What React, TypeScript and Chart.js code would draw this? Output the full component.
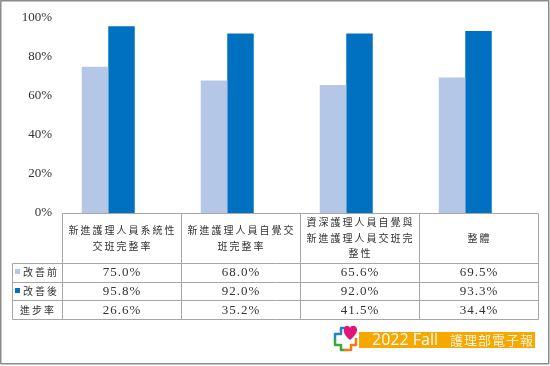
import React, { useEffect, useRef } from "react";
import { Chart, registerables } from "chart.js";

Chart.register(...registerables);

// ---- data ----
const categoryLines: string[][] = [
  ["新進護理人員系統性", "交班完整率"],
  ["新進護理人員自覺交", "班完整率"],
  ["資深護理人員自覺與", "新進護理人員交班完", "整性"],
  ["整體"],
];
const seriesNames = ["改善前", "改善後"];
const beforeValues = [75.0, 68.0, 65.6, 69.5];
const afterValues = [95.8, 92.0, 92.0, 93.3];
const progressLabel = "進步率";
const progressValues = [26.6, 35.2, 41.5, 34.4];
const yTickValues = [0, 20, 40, 60, 80, 100];
const footerYear = "2022 Fall";
const footerTitle = "護理部電子報";

// ---- style ----
const seriesColors = ["#b4c7e7", "#0070c0"];
const textColor = "#333333";
const gridColor = "#a6a6a6";
const serif = "'Liberation Serif', 'Times New Roman', serif";
const cjk = "'Noto Sans CJK TC', 'Noto Sans CJK SC', sans-serif";

const fmt = (v: number) => v.toFixed(1) + "%";

const drawLine = (ctx: CanvasRenderingContext2D, x1: number, y1: number, x2: number, y2: number) => {
  ctx.beginPath();
  ctx.moveTo(Math.round(x1) + 0.5, Math.round(y1) + 0.5);
  ctx.lineTo(Math.round(x2) + 0.5, Math.round(y2) + 0.5);
  ctx.stroke();
};

const tablePlugin = {
  id: "dataTable",
  afterDraw(chart: any) {
    const { ctx, chartArea } = chart;
    const xs = chart.scales.x;
    const n = categoryLines.length;
    const colW = (chartArea.right - chartArea.left) / n;
    const top = chartArea.bottom;
    const headerH = 50;
    const rowH = 18.7;
    const legendLeft = 12;
    const rowCount = 3;
    const bodyTop = top + headerH;
    const bottom = bodyTop + rowCount * rowH;

    ctx.save();
    ctx.strokeStyle = gridColor;
    ctx.lineWidth = 1;
    drawLine(ctx, chartArea.left, top, chartArea.right, top);
    for (let r = 0; r <= rowCount; r++) {
      const y = bodyTop + r * rowH;
      drawLine(ctx, legendLeft, y, chartArea.right, y);
    }
    drawLine(ctx, legendLeft, bodyTop, legendLeft, bottom);
    for (let i = 0; i <= n; i++) {
      const x = chartArea.left + i * colW;
      drawLine(ctx, x, top, x, bottom);
    }

    // header text
    ctx.fillStyle = textColor;
    ctx.textBaseline = "middle";
    ctx.textAlign = "center";
    ctx.font = `10px ${cjk}`;
    (ctx as any).letterSpacing = "2px";
    const lineH = 15.5;
    categoryLines.forEach((lines, i) => {
      const cx = xs.getPixelForValue(i) + 1;
      const cy = top + headerH / 2;
      lines.forEach((t, k) => {
        ctx.fillText(t, cx, cy + (k - (lines.length - 1) / 2) * lineH);
      });
    });

    // legend column
    const rowsData = [beforeValues, afterValues, progressValues];
    ctx.textAlign = "left";
    seriesNames.forEach((name, r) => {
      const cy = bodyTop + (r + 0.5) * rowH;
      ctx.fillStyle = seriesColors[r];
      ctx.fillRect(legendLeft + 3, Math.round(cy) - 3, 5, 5);
      ctx.fillStyle = textColor;
      ctx.fillText(name, legendLeft + 11, cy);
    });
    ctx.textAlign = "center";
    ctx.fillText(progressLabel, (legendLeft + chartArea.left) / 2 + 1, bodyTop + 2.5 * rowH);

    // values
    ctx.font = `13px ${serif}`;
    (ctx as any).letterSpacing = "1px";
    rowsData.forEach((vals, r) => {
      const cy = bodyTop + (r + 0.5) * rowH + 0.5;
      vals.forEach((v, i) => {
        ctx.fillText(fmt(v), xs.getPixelForValue(i) + 0.5, cy);
      });
    });
    (ctx as any).letterSpacing = "0px";

    // footer logo
    const fx = 358;
    const fy = 332;
    ctx.fillStyle = "#f6a800";
    ctx.fillRect(fx, fy, 177, 16);
    ctx.textAlign = "left";
    ctx.fillStyle = "#ffffff";
    ctx.font = `16px 'Open Sans', 'Noto Sans', sans-serif`;
    ctx.fillText(footerYear, 372, fy + 8.5);
    ctx.font = `13px ${cjk}`;
    (ctx as any).letterSpacing = "1px";
    ctx.fillStyle = "#fff4dc";
    ctx.fillText(footerTitle, 450, fy + 8.5);
    (ctx as any).letterSpacing = "0px";

    // icon: cross outline in colours with a pink heart
    ctx.fillStyle = "#ffffff";
    ctx.fillRect(333, 325, 26, 28);
    ctx.lineWidth = 2.5;
    ctx.lineJoin = "round";
    ctx.lineCap = "round";
    const poly = (color: string, pts: number[][]) => {
      ctx.strokeStyle = color;
      ctx.beginPath();
      pts.forEach(([a, b], k) => (k ? ctx.lineTo(a, b) : ctx.moveTo(a, b)));
      ctx.stroke();
    };
    poly("#2a7fc9", [[335, 340], [335, 334], [341, 334], [341, 328], [346, 328]]);
    poly("#3aaa35", [[335, 340], [335, 345], [341, 345], [341, 350], [345, 350]]);
    poly("#ee7d1a", [[345, 350], [351, 350], [351, 345], [356, 345], [356, 339]]);
    ctx.fillStyle = "#e0157a";
    ctx.beginPath();
    ctx.moveTo(350, 340);
    ctx.bezierCurveTo(345, 336, 343, 332, 344, 329);
    ctx.bezierCurveTo(345, 325, 349, 325, 350, 328);
    ctx.bezierCurveTo(351, 325, 356, 325, 357, 329);
    ctx.bezierCurveTo(357.5, 332, 355, 336, 350, 340);
    ctx.fill();

    // outer frame
    ctx.strokeStyle = "#8c8c8c";
    ctx.lineWidth = 1.5;
    ctx.strokeRect(0.75, 0.75, 548, 363);
    ctx.restore();
  },
};

export default function App() {
  const ref = useRef<HTMLCanvasElement>(null);
  useEffect(() => {
    if (!ref.current) return;
    const chart = new Chart(ref.current, {
      type: "bar",
      data: {
        labels: categoryLines.map((l) => l.join("")),
        datasets: [
          { label: seriesNames[0], data: beforeValues, backgroundColor: seriesColors[0] },
          { label: seriesNames[1], data: afterValues, backgroundColor: seriesColors[1] },
          { label: "", data: categoryLines.map(() => null), backgroundColor: "rgba(0,0,0,0)" },
        ],
      },
      options: {
        responsive: false,
        animation: false,
        devicePixelRatio: 1,
        layout: { padding: { top: 18, bottom: 153, right: 12, left: 0 } },
        datasets: { bar: { categoryPercentage: 0.668, barPercentage: 1 } },
        plugins: { legend: { display: false }, tooltip: { enabled: false } },
        scales: {
          x: { display: false },
          y: {
            min: 0,
            max: 100,
            afterBuildTicks: (s: any) => {
              s.ticks = yTickValues.map((v) => ({ value: v }));
            },
            afterFit: (s: any) => {
              s.width = 62;
            },
            grid: { display: false, drawTicks: false },
            border: { display: false },
            ticks: {
              padding: 10,
              color: textColor,
              font: { family: serif, size: 13 },
              callback: (v: any) => v + "%",
            },
          },
        },
      },
      plugins: [tablePlugin],
    } as any);
    return () => chart.destroy();
  }, []);
  return (
    <div style={{ position: "absolute", left: 0, top: 0, width: 550, height: 366, background: "#fff" }}>
      <canvas ref={ref} width={550} height={366} />
    </div>
  );
}
